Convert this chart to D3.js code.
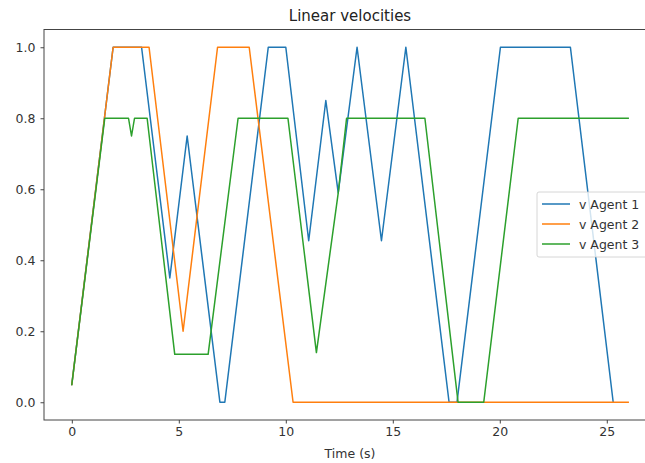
<!DOCTYPE html>
<html>
<head>
<meta charset="utf-8">
<script src="https://cdn.jsdelivr.net/npm/d3@7"></script>
<style>
  html, body { margin: 0; padding: 0; background: #fff; }
  svg { display: block; font-family: "DejaVu Sans", sans-serif; }
</style>
</head>
<body>
<svg id="chart" width="645" height="463"></svg>
<script>
const title = "Linear velocities";
const xLabel = "Time (s)";
const seriesNames = ["v Agent 1", "v Agent 2", "v Agent 3"];
const seriesColors = ["#1f77b4", "#ff7f0e", "#2ca02c"];
const xTicks = [0, 5, 10, 15, 20, 25];
const yTicks = [0.0, 0.2, 0.4, 0.6, 0.8, 1.0];

const agent1T = [0, 1.93, 3.26, 4.58, 5.39, 6.92, 7.15, 9.18, 10.0, 11.07, 11.87, 12.45, 13.33, 14.47, 15.61, 17.63, 18.0, 20.03, 23.3, 25.3];
const agent1V = [0.05, 1, 1, 0.35, 0.75, 0, 0, 1, 1, 0.455, 0.85, 0.59, 1, 0.455, 1, 0, 0, 1, 1, 0];

const agent2T = [0, 1.93, 3.61, 5.2, 6.81, 8.29, 10.34, 26.0];
const agent2V = [0.05, 1, 1, 0.2, 1, 1, 0, 0];

const agent3T = [0, 1.54, 2.65, 2.79, 2.93, 3.52, 4.81, 6.37, 7.77, 10.1, 11.43, 12.45, 12.84, 16.5, 18.05, 19.25, 20.86, 26.0];
const agent3V = [0.05, 0.8, 0.8, 0.75, 0.8, 0.8, 0.135, 0.135, 0.8, 0.8, 0.14, 0.59, 0.8, 0.8, 0, 0, 0.8, 0.8];

const series = [
  { name: seriesNames[0], color: seriesColors[0], pts: agent1T.map((t, i) => [t, agent1V[i]]) },
  { name: seriesNames[1], color: seriesColors[1], pts: agent2T.map((t, i) => [t, agent2V[i]]) },
  { name: seriesNames[2], color: seriesColors[2], pts: agent3T.map((t, i) => [t, agent3V[i]]) }
];

const svg = d3.select("#chart");
const L = 44, R = 656, T = 29.5, B = 420;

const x = d3.scaleLinear().domain([-1.3, 27.3]).range([L, R]);
const y = d3.scaleLinear().domain([-0.05, 1.05]).range([B, T]);

svg.append("defs").append("clipPath").attr("id", "clip")
  .append("rect").attr("x", L).attr("y", T).attr("width", R - L).attr("height", B - T);

const line = d3.line().x(d => x(d[0])).y(d => y(d[1]));

svg.append("g").attr("clip-path", "url(#clip)")
  .selectAll("path").data(series).join("path")
  .attr("d", d => line(d.pts))
  .attr("fill", "none")
  .attr("stroke", d => d.color)
  .attr("stroke-width", 1.5)
  .attr("stroke-linejoin", "round")
  .attr("stroke-linecap", "square");

// spines
svg.append("rect").attr("x", L).attr("y", T).attr("width", R - L).attr("height", B - T)
  .attr("fill", "none").attr("stroke", "#444").attr("stroke-width", 1);

// axes
const xAxis = d3.axisBottom(x).tickValues(xTicks).tickFormat(d3.format("d")).tickSize(3.5).tickPadding(4);
const gx = svg.append("g").attr("transform", `translate(0,${B})`).call(xAxis);
const yAxis = d3.axisLeft(y).tickValues(yTicks).tickFormat(d3.format(".1f")).tickSize(3.5).tickPadding(5);
const gy = svg.append("g").attr("transform", `translate(${L},0)`).call(yAxis);
[gx, gy].forEach(g => {
  g.select(".domain").remove();
  g.selectAll(".tick line").attr("stroke", "#444").attr("stroke-width", 1);
  g.selectAll(".tick text").attr("fill", "#333").style("font-size", "12.5px").style("font-family", "DejaVu Sans, sans-serif");
});

// title and label
svg.append("text").attr("x", (L + R) / 2).attr("y", 20.5).attr("text-anchor", "middle")
  .style("font-size", "15px").attr("fill", "#222").text(title);
svg.append("text").attr("x", (L + R) / 2).attr("y", 458).attr("text-anchor", "middle")
  .style("font-size", "12.5px").attr("fill", "#333").text(xLabel);

// legend
const lg = svg.append("g").attr("transform", "translate(537,192)");
lg.append("rect").attr("x", 0).attr("y", 0).attr("width", 115).attr("height", 65)
  .attr("rx", 2).attr("fill", "#fff").attr("fill-opacity", 0.8).attr("stroke", "#cccccc").attr("stroke-width", 0.8);
series.forEach((s, i) => {
  const yy = 12 + i * 20;
  lg.append("line").attr("x1", 5).attr("x2", 33).attr("y1", yy).attr("y2", yy)
    .attr("stroke", s.color).attr("stroke-width", 1.5);
  lg.append("text").attr("x", 42).attr("y", yy + 4.5).style("font-size", "12.5px").attr("fill", "#333").text(s.name);
});
</script>
</body>
</html>
